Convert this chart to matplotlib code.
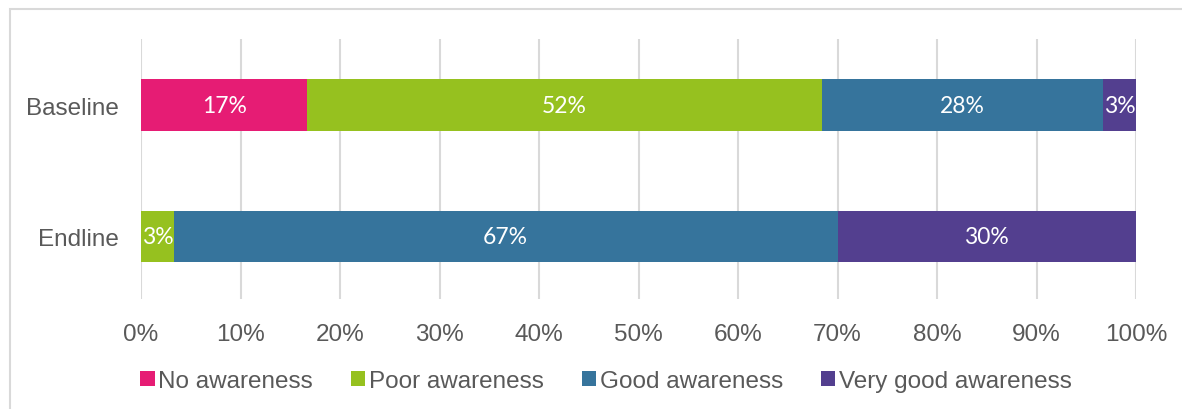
import numpy as np
import matplotlib.pyplot as plt

# awareness shares (%)
groups = ["Baseline", "Endline"]
series = ["No awareness", "Poor awareness", "Good awareness", "Very good awareness"]
no_aw = [16.7, 0.0]
poor_aw = [51.7, 3.3]
good_aw = [28.3, 66.7]
vgood_aw = [3.3, 30.0]
colors = ["#E61C74", "#96C11F", "#36749C", "#533F8F"]
xticks = np.arange(0, 101, 10)

fig = plt.figure(figsize=(11.82, 4.10), dpi=100)
ax = fig.add_axes([141 / 1182, 1 - 300 / 410, 995 / 1182, 260 / 410])

ypos = np.arange(len(groups))
left = np.zeros(len(groups))
for name, vals, col in zip(series, [no_aw, poor_aw, good_aw, vgood_aw], colors):
    vals = np.array(vals)
    bars = ax.barh(ypos, vals, left=left, height=0.394, color=col, label=name, zorder=3)
    for b, v in zip(bars, vals):
        if v > 0:
            ax.text(b.get_x() + b.get_width() / 2, b.get_y() + b.get_height() / 2,
                    f"{v:.0f}%", ha="center", va="center", color="white",
                    fontsize=16.5, family="Lato", zorder=4)
    left += vals

ax.set_xlim(0, 100)
ax.set_ylim(1.475, -0.505)
ax.set_xticks(xticks)
ax.set_xticklabels([f"{t}%" for t in xticks])
ax.set_yticks(ypos)
ax.set_yticklabels(groups)
ax.tick_params(axis="both", length=0, labelsize=17.5, labelcolor="#595959")
ax.tick_params(axis="x", pad=17)
ax.tick_params(axis="y", pad=16)
ax.xaxis.grid(True, color="#D9D9D9", linewidth=1.5, zorder=0)
for s in ax.spines.values():
    s.set_visible(False)
for lab in ax.get_xticklabels() + ax.get_yticklabels():
    lab.set_family("Liberation Sans")

# outer frame (runs off the right and bottom edges)
fig.patches.append(plt.Rectangle((10 / 1182, -0.1), 1.1, 1.1 - 10 / 410,
                                 transform=fig.transFigure, fill=False,
                                 edgecolor="#D9D9D9", linewidth=1.5))

leg = fig.legend(loc="center", bbox_to_anchor=(606 / 1182, 1 - 382 / 410), ncol=4, frameon=False,
                 prop={"family": "Liberation Sans", "size": 17.5}, handlelength=0.6,
                 handleheight=0.6, handletextpad=0.15, columnspacing=1.55)
for t in leg.get_texts():
    t.set_color("#595959")

fig.savefig("out.png", dpi=100)
